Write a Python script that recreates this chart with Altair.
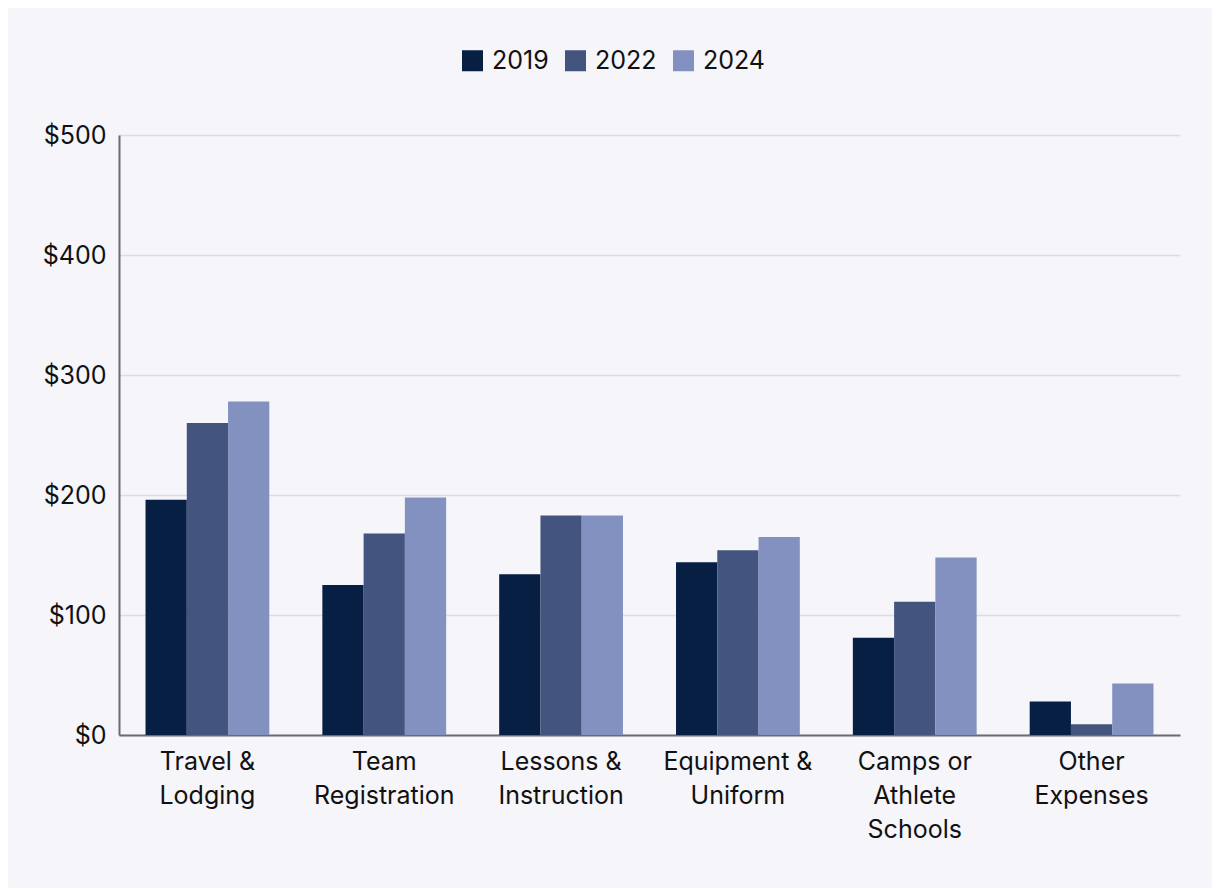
import altair as alt
import pandas as pd

categories = ["Travel &|Lodging", "Team|Registration", "Lessons &|Instruction",
              "Equipment &|Uniform", "Camps or|Athlete|Schools", "Other|Expenses"]
years = ["2019", "2022", "2024"]
v2019 = [196, 125, 134, 144, 81, 28]
v2022 = [260, 168, 183, 154, 111, 9]
v2024 = [278, 198, 183, 165, 148, 43]
colors = ["#061f42", "#43557e", "#8291bf"]

rows = []
for i, c in enumerate(categories):
    for y, vals in zip(years, [v2019, v2022, v2024]):
        rows.append({"category": c, "year": y, "value": vals[i]})
df = pd.DataFrame(rows)

FONT = "Inter"
FS = 25

chart = alt.Chart(df).mark_bar().encode(
    x=alt.X("category:N", sort=categories, title=None,
            scale=alt.Scale(paddingInner=0.3, paddingOuter=0.15),
            axis=alt.Axis(labelExpr="split(datum.label, '|')", labelAngle=0,
                          labelFontSize=FS, labelColor="#111111", labelFont=FONT,
                          labelLineHeight=34, labelPadding=14, ticks=False,
                          domainColor="#6b6b73", domainWidth=2, grid=False)),
    xOffset=alt.XOffset("year:N", sort=years),
    y=alt.Y("value:Q", title=None,
            scale=alt.Scale(domain=[0, 500], nice=False),
            axis=alt.Axis(values=[0, 100, 200, 300, 400, 500], format="$,.0f",
                          labelFontSize=FS, labelColor="#111111", labelFont=FONT,
                          labelPadding=13, ticks=False, domainColor="#6b6b73",
                          domainWidth=2, gridColor="#dcdce3", gridWidth=1.5)),
    color=alt.Color("year:N", sort=years,
                    scale=alt.Scale(domain=years, range=colors),
                    legend=alt.Legend(title=None, orient="none", direction="horizontal",
                                      legendX=341, legendY=-87, symbolType="square",
                                      symbolSize=441, symbolStrokeWidth=0,
                                      symbolOpacity=1,
                                      labelFontSize=FS, labelFont=FONT,
                                      labelColor="#111111", columnPadding=14,
                                      labelOffset=7)),
).properties(
    width=1061, height=600,
    autosize=alt.AutoSizeParams(type="none"),
    padding={"left": 111, "top": 127, "right": 32, "bottom": 153},
).configure(
    background="#f5f5fa",
).configure_view(
    stroke=None,
)

chart.save("out.html", embed_options={"renderer": "svg", "actions": False})
